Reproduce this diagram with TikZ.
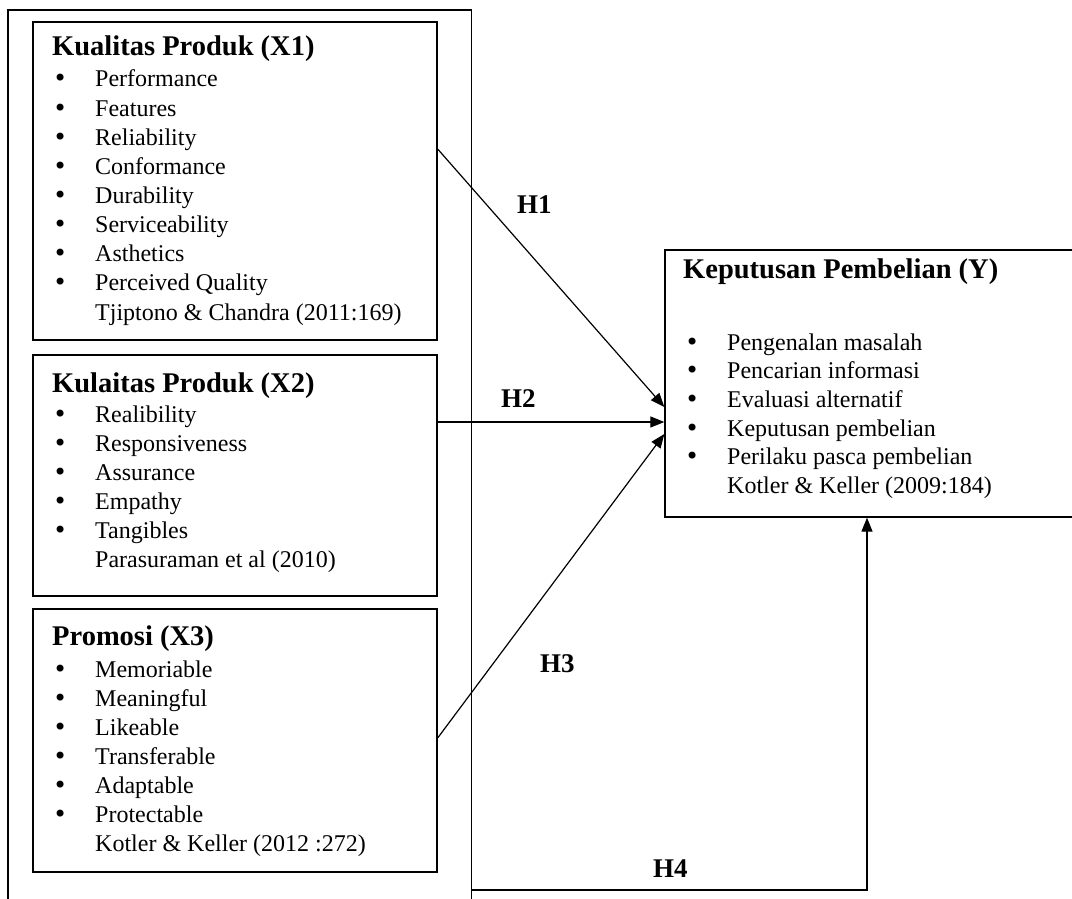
\documentclass[tikz,border=0pt]{standalone}
\usepackage{fontspec}
\setmainfont{Liberation Serif}
\newfontfamily\bulfont{DejaVu Sans}
\usetikzlibrary{arrows.meta}
\newcommand{\mybul}{\makebox[43pt][l]{\hspace{1pt}{\bulfont •}}}
\begin{document}
\begin{tikzpicture}[x=1pt,y=-1pt,
  box/.style={draw, line width=1.3pt, rectangle, inner sep=0pt},
  itm/.style={anchor=base west, inner sep=0pt, font=\fontsize{24}{29}\selectfont},
  ttl/.style={anchor=base west, inner sep=0pt, font=\fontsize{28.5}{34}\selectfont\bfseries},
  hyp/.style={anchor=base west, inner sep=0pt, font=\fontsize{27}{32}\selectfont\bfseries},
  arr/.style={line width=1.2pt, -{Triangle[length=14pt,width=11pt]}}]
\useasboundingbox (0,0) rectangle (1072,899);
\clip (0,0) rectangle (1072,899);
% boxes
\node[box, minimum width=463.5pt, minimum height=930pt] (outer) at (239.75,475) {};
\node[box, minimum width=404pt, minimum height=318pt] (x1) at (235,181) {};
\node[box, minimum width=404pt, minimum height=241pt] (x2) at (235,475.5) {};
\node[box, minimum width=404pt, minimum height=263pt] (x3) at (235,740.5) {};
\node[box, minimum width=425pt, minimum height=267pt] (y) at (877.5,383.5) {};
% X1
\node[ttl] (x1t) at (52,56) {Kualitas Produk (X1)};
\foreach \t [count=\i from 0] in {Performance,Features,Reliability,Conformance,Durability,Serviceability,Asthetics,Perceived Quality}
  \node[itm] (x1i\i) at (52,87+29.1*\i) {\mybul\t};
\node[itm] (x1c) at (95,320) {Tjiptono \& Chandra (2011:169)};
% X2
\node[ttl] (x2t) at (52,392) {Kulaitas Produk (X2)};
\foreach \t [count=\i from 0] in {Realibility,Responsiveness,Assurance,Empathy,Tangibles}
  \node[itm] (x2i\i) at (52,422+29*\i) {\mybul\t};
\node[itm] (x2c) at (95,567) {Parasuraman et al (2010)};
% X3
\node[ttl] (x3t) at (52,645) {Promosi (X3)};
\foreach \t [count=\i from 0] in {Memoriable,Meaningful,Likeable,Transferable,Adaptable,Protectable}
  \node[itm] (x3i\i) at (52,677+29*\i) {\mybul\t};
\node[itm] (x3c) at (95,851) {Kotler \& Keller (2012 :272)};
% Y
\node[ttl] (yt) at (683,278) {Keputusan Pembelian (Y)};
\foreach \t [count=\i from 0] in {Pengenalan masalah,Pencarian informasi,Evaluasi alternatif,Keputusan pembelian,Perilaku pasca pembelian}
  \node[itm] (yi\i) at (684,350+28.7*\i) {\mybul\t};
\node[itm] (yc) at (727,493) {Kotler \& Keller (2009:184)};
% connectors
\draw[arr] (x1.east |- 0,149) -- (y.west |- 0,407);
\draw[arr] (x2.east |- 0,422) -- (y.west |- 0,422);
\draw[arr] (x3.east |- 0,738) -- (y.west |- 0,434);
\coordinate (h4c) at (867,890);
\draw[arr] (outer.east |- h4c) -- (h4c) -- (h4c |- y.south);
% labels
\node[hyp] (h1) at (517,213) {H1};
\node[hyp] (h2) at (501,407) {H2};
\node[hyp] (h3) at (540,672) {H3};
\node[hyp] (h4) at (653,877) {H4};
\end{tikzpicture}
\end{document}
